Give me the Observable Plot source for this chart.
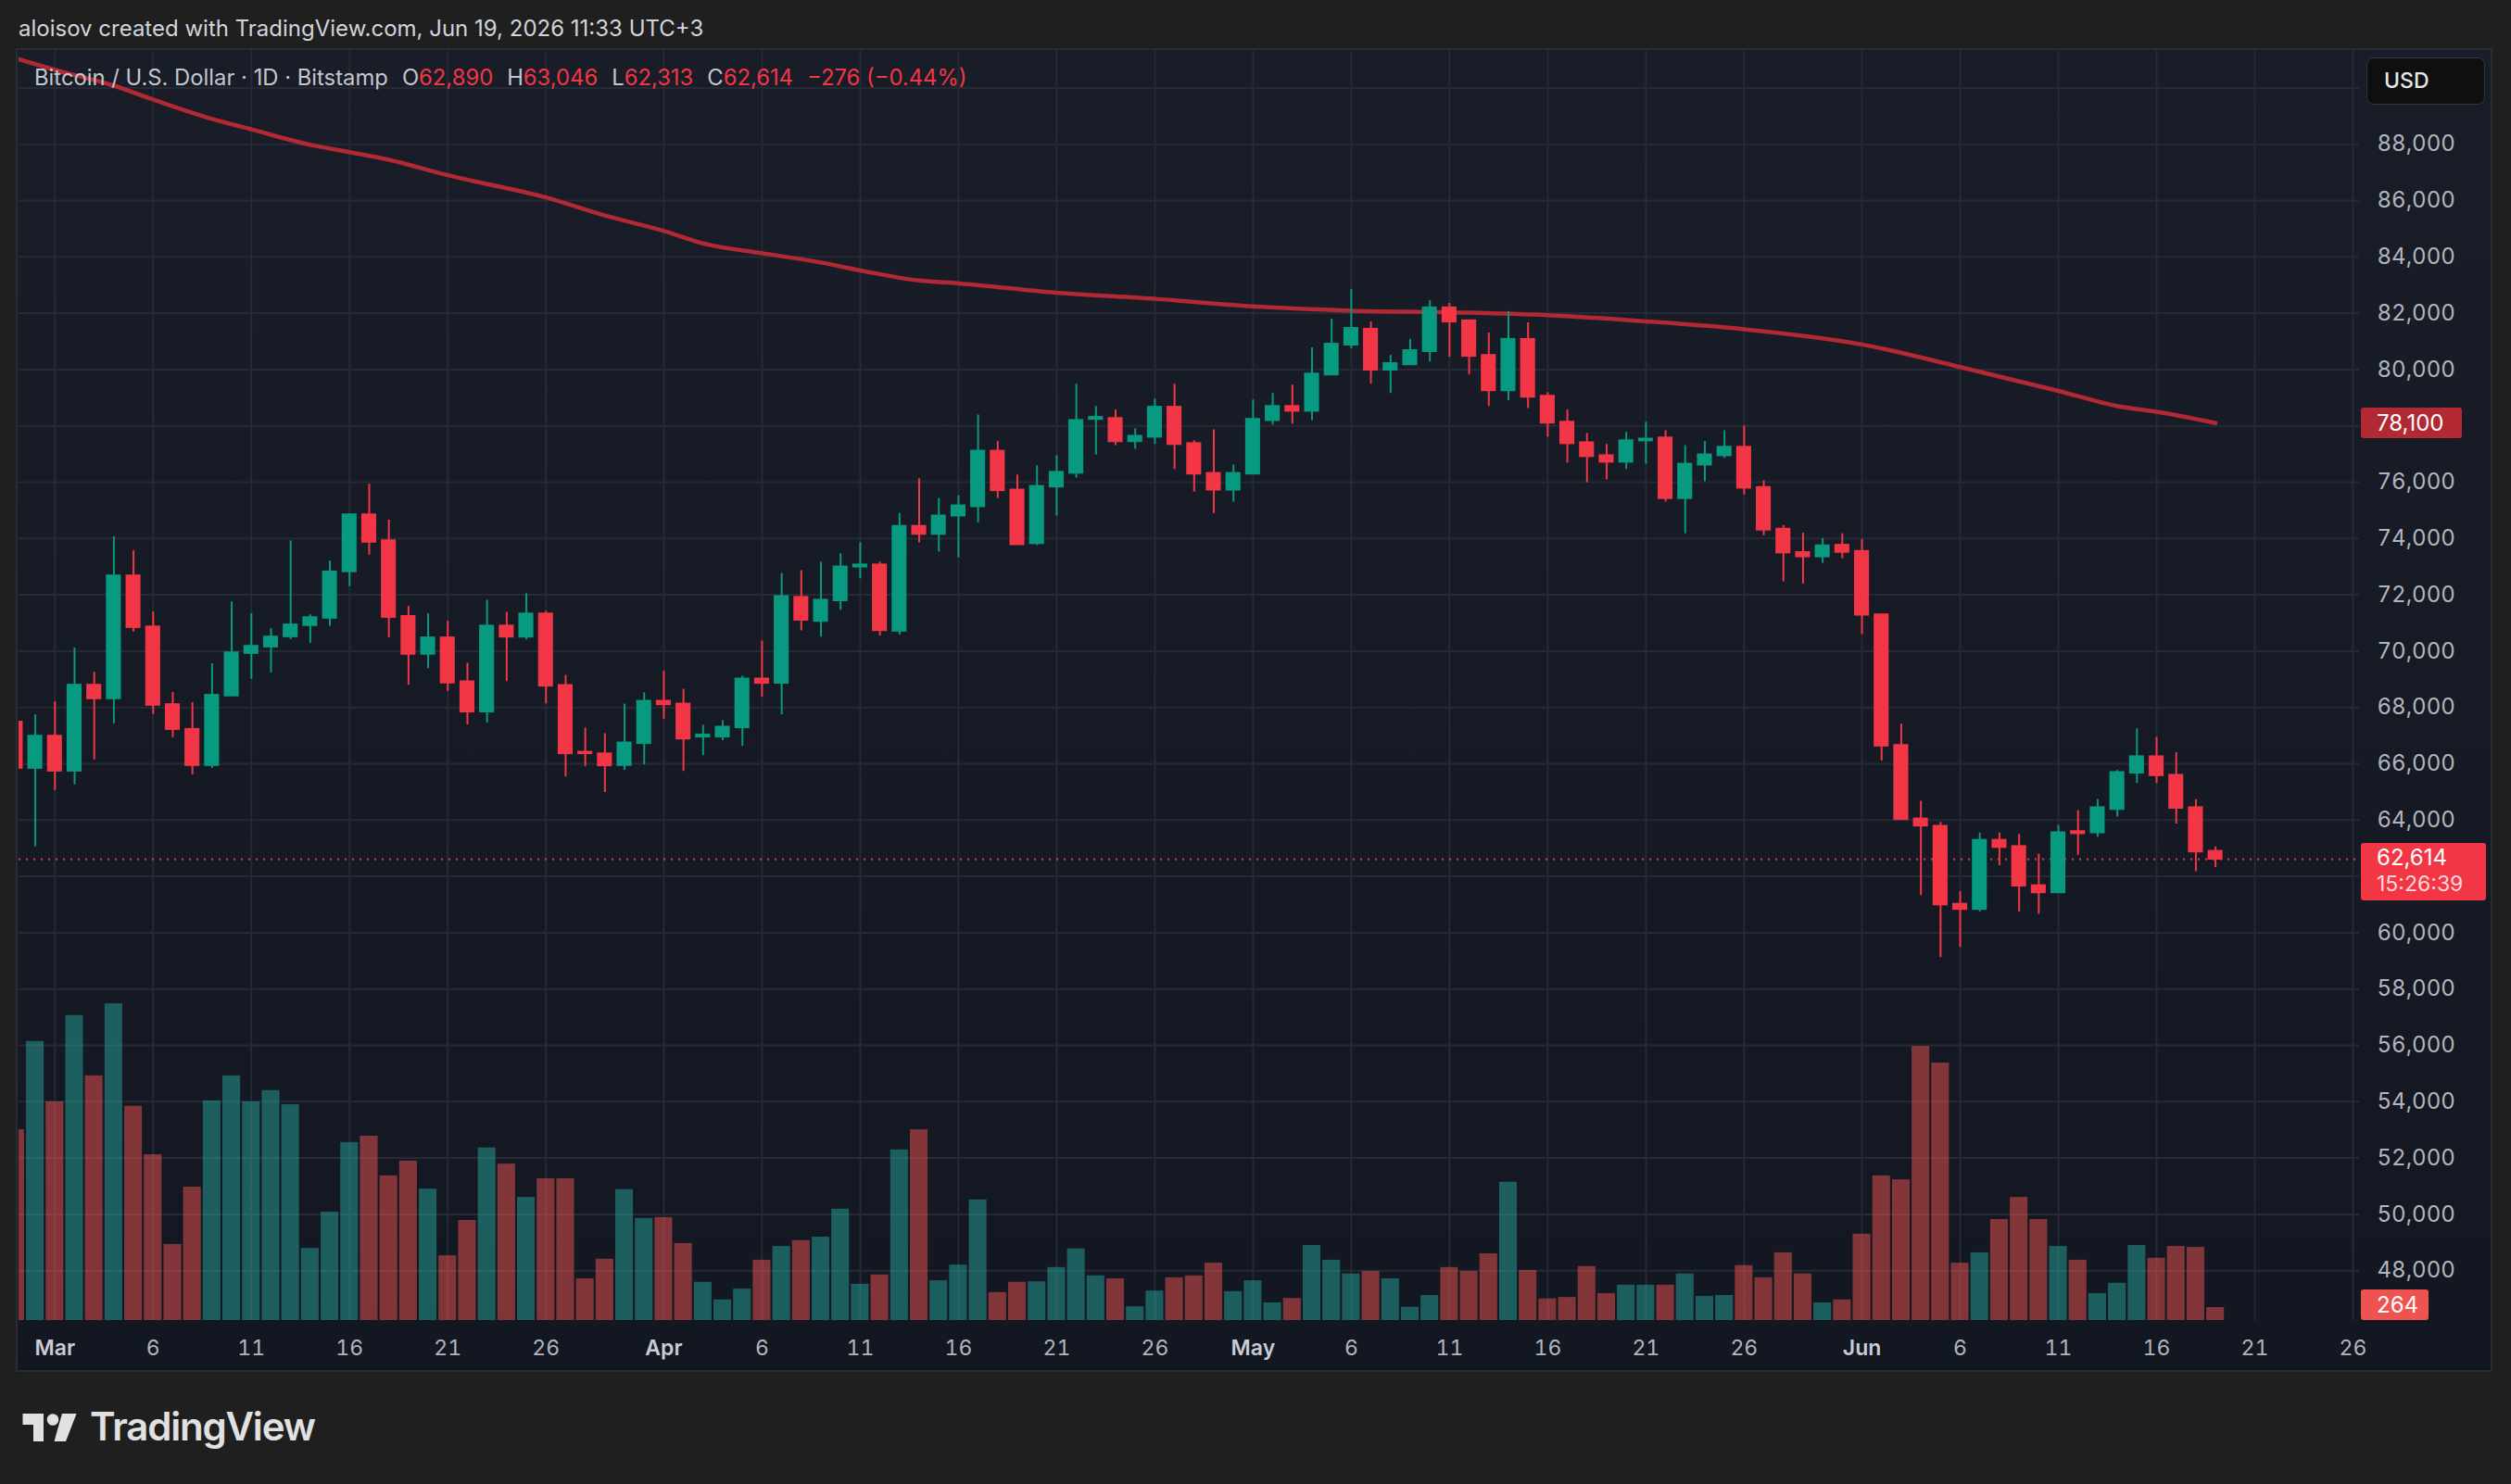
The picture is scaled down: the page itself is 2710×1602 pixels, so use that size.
<!DOCTYPE html>
<html>
<head>
<meta charset="utf-8">
<script src="https://cdn.jsdelivr.net/npm/d3@7"></script>
<script src="https://cdn.jsdelivr.net/npm/@observablehq/plot@0.6"></script>
<style>
  html, body { margin:0; padding:0; background:#1f1f1f; width:2710px; height:1602px; overflow:hidden;
    font-family: Inter, "Noto Sans", Roboto, sans-serif; }
  #header { position:absolute; left:20px; top:17px; font-size:24px; line-height:28px; color:#d1d4dc; white-space:nowrap; }
  #panel { position:absolute; left:17px; top:52px; width:2673px; height:1429px; box-sizing:border-box;
    border:2px solid #2b2d33; background:linear-gradient(#191d28, #131722); }
  #chart { position:absolute; left:17px; top:52px; width:2673px; height:1429px; }
  #chart svg { position:absolute; left:0; top:0; }
  #legend { position:absolute; left:37px; top:70px; font-size:23.8px; line-height:28px; color:#c3c6ce; white-space:nowrap; }
  #legend .v { color:#f23645; }
  #legend .g { margin-left:15px; }
  .tag { position:absolute; box-sizing:border-box; color:#fff; font-size:24px; white-space:nowrap; border-radius:3px; }
  #usd { position:absolute; left:2554px; top:62px; width:128px; height:51px; box-sizing:border-box; background:#0f0f0f;
    border:1.5px solid #34363d; border-radius:8px; color:#e6e6e6; font-size:23px; font-weight:500; line-height:48px; padding-left:18px; }
  #brand { position:absolute; left:97px; top:1519px; font-size:42px; line-height:42px; font-weight:600; color:#e1e1e1; letter-spacing:-1.2px; }
</style>
</head>
<body>
<div id="header">aloisov created with TradingView.com, Jun 19, 2026 11:33 UTC+3</div>
<div id="panel"></div>
<div id="chart"></div>
<div id="legend"></div>
<div id="usd">USD</div>
<svg id="logo" width="70" height="40" style="position:absolute;left:22px;top:1522px" viewBox="0 0 70 40">
  <path d="M2.5 4 H25 V34 H14 V16 H2.5 Z" fill="#e1e1e1"/>
  <circle cx="35" cy="10.5" r="6.3" fill="#e1e1e1"/>
  <path d="M45 4 H60.6 L49 34 H36.5 Z" fill="#e1e1e1"/>
</svg>
<div id="brand">TradingView</div>
<script>
// ---------------- DATA ----------------
const firstDay = "2026-02-27"; // daily candles, Feb 27 .. Jun 19
const open = [
  67480, 65840,                                                                      // Feb 27-28
  66980, 65740, 68790, 68310, 72670, 70860, 68100, 67220, 65940, 68410,             // Mar 1-10
  69920, 70150, 70510, 70910, 71170, 72820, 74840, 73920, 71230, 69890,             // Mar 11-20
  70470, 68910, 67840, 70890, 70500, 71320, 68780, 66410, 66350, 65940, 66720,      // Mar 21-31
  68220, 68120, 66950, 66950, 67280, 69010, 68860, 71910, 71060, 71790,             // Apr 1-10
  72990, 73060, 70710, 74430, 74150, 74800, 75130, 77100, 75720, 73820,             // Apr 11-20
  75830, 76320, 78230, 78260, 77440, 77600, 78660, 77370, 76310, 75720,             // Apr 21-30
  76290, 78190, 78690, 78520, 79810, 80870, 81430, 79980, 80170, 80640,             // May 1-10
  82190, 81730, 80500, 79250, 81070, 79050, 78130, 77400, 76940, 76710,             // May 11-20
  77470, 77570, 75420, 76610, 76940, 77240, 75810, 74330, 73500, 73350, 73760,      // May 21-31
  73540, 71290, 66650, 64040, 63780, 61010, 60830, 63280, 63060, 61670,             // Jun 1-10
  61420, 63590, 63550, 64380, 65670, 66250, 65590, 64440, 62890                     // Jun 11-19
];
const high = [
  67800, 67740,
  68200, 70110, 69250, 74060, 73560, 71390, 68530, 68170, 69550, 71750,
  71330, 70800, 73920, 71290, 73200, 74880, 75930, 74650, 71590, 71330,
  71060, 69570, 71810, 71380, 72040, 71410, 69140, 67270, 67070, 68120, 68520,
  69280, 68650, 67370, 67530, 69110, 70360, 72760, 72860, 73160, 73460,
  73850, 73160, 74890, 76120, 75420, 75520, 78390, 77440, 76250, 76580,
  76940, 79480, 78690, 78560, 77900, 78950, 79480, 77470, 77860, 76610,
  78920, 79150, 79450, 80770, 81790, 82850, 81690, 80500, 81070, 82450,
  82350, 81760, 81300, 82060, 81660, 79180, 78560, 77730, 77340, 77770,
  78130, 77830, 77300, 77440, 77830, 78000, 76050, 74460, 74190, 74000, 74170,
  73970, 71300, 67410, 64670, 63920, 61460, 63540, 63540, 63490, 62790,
  63810, 64340, 64730, 65760, 67240, 66940, 66390, 64730, 63046
];
const low = [
  65500, 63050,
  65050, 65250, 66140, 67420, 70680, 67750, 66930, 65610, 65840, 68400,
  69000, 69230, 70410, 70280, 70880, 72290, 73410, 70480, 68790, 69380,
  68570, 67380, 67440, 68920, 70400, 68130, 65540, 65900, 64980, 65770, 65960,
  67580, 65730, 66290, 66820, 66620, 68370, 67740, 70720, 70500, 71450,
  72570, 70540, 70570, 73850, 73520, 73320, 74560, 75420, 73780, 73750,
  74800, 76150, 76970, 77300, 77170, 77340, 76450, 75650, 74890, 75290,
  76290, 78030, 78060, 78190, 79810, 80740, 79480, 79150, 80140, 80270,
  80440, 79810, 78690, 78890, 78620, 77600, 76680, 75980, 76080, 76450,
  76640, 75290, 74170, 76020, 76840, 75550, 74100, 72460, 72390, 73120, 73280,
  70590, 66100, 63990, 61320, 59120, 59480, 60740, 62380, 60740, 60660,
  61420, 62750, 63390, 64110, 65300, 65300, 63860, 62170, 62313
];
const close = [
  65840, 66980,
  65740, 68790, 68310, 72670, 70840, 68080, 67220, 65940, 68430, 69940,
  70170, 70500, 70930, 71190, 72810, 74840, 73870, 71200, 69890, 70470,
  68870, 67840, 70890, 70500, 71320, 68760, 66360, 66360, 65930, 66740, 68220,
  68100, 66880, 67020, 67300, 69010, 68860, 71940, 71100, 71810, 72990,
  73060, 70730, 74430, 74150, 74800, 75160, 77100, 75700, 73780, 75850,
  76350, 78190, 78300, 77440, 77630, 78660, 77340, 76290, 75720, 76310,
  78230, 78690, 78520, 79840, 80900, 81460, 79980, 80210, 80670, 82190,
  81690, 80470, 79250, 81070, 79020, 78100, 77370, 76910, 76710, 77470,
  77530, 75420, 76640, 76970, 77240, 75790, 74300, 73490, 73350, 73740, 73510,
  71280, 66630, 64020, 63790, 60990, 60830, 63280, 63030, 61660, 61420,
  63550, 63520, 64440, 65690, 66250, 65580, 64420, 62870, 62614
];
const volume = [
  3890, 5690,
  4460, 6220, 4990, 6460, 4370, 3380, 1550, 2720, 4480, 4990,
  4460, 4690, 4400, 1470, 2210, 3630, 3760, 2950, 3250, 2680,
  1320, 2040, 3520, 3190, 2510, 2890, 2890, 850, 1250, 2670, 2080,
  2100, 1570, 780, 420, 640, 1230, 1510, 1630, 1700, 2270,
  740, 930, 3480, 3890, 810, 1130, 2460, 570, 780, 790,
  1080, 1460, 910, 850, 280, 600, 870, 910, 1170, 590,
  810, 360, 450, 1530, 1230, 950, 1000, 850, 270, 510,
  1080, 1000, 1360, 2820, 1020, 440, 470, 1100, 550, 720,
  720, 720, 950, 490, 510, 1120, 870, 1380, 950, 360, 420,
  1760, 2950, 2870, 5590, 5250, 1170, 1380, 2060, 2510, 2060,
  1510, 1230, 550, 760, 1530, 1270, 1510, 1490, 264
];
// 200-day moving average, read at points along the line
const maDates = ["2026-02-27","2026-03-01","2026-03-04","2026-03-06","2026-03-09","2026-03-11","2026-03-14",
  "2026-03-16","2026-03-18","2026-03-21","2026-03-26","2026-03-29","2026-04-01","2026-04-03","2026-04-06",
  "2026-04-09","2026-04-11","2026-04-14","2026-04-16","2026-04-21","2026-04-26","2026-05-01","2026-05-06",
  "2026-05-11","2026-05-16","2026-05-21","2026-05-26","2026-06-01","2026-06-06","2026-06-11","2026-06-14",
  "2026-06-16","2026-06-19"];
const maValues = [91050, 90640, 90080, 89590, 88900, 88530, 87980,
  87720, 87450, 86900, 86110, 85470, 84920, 84480, 84130,
  83800, 83520, 83160, 83060, 82730, 82510, 82240, 82090,
  82030, 81930, 81710, 81430, 80890, 80090, 79240, 78700,
  78500, 78100];
const priceLabelTicks = [48000,50000,52000,54000,56000,58000,60000,64000,66000,68000,70000,72000,74000,76000,80000,82000,84000,86000,88000];
const priceGridTicks = [48000,50000,52000,54000,56000,58000,60000,62000,64000,66000,68000,70000,72000,74000,76000,78000,80000,82000,84000,86000,88000,90000];
const dayTicks = ["2026-03-06","2026-03-11","2026-03-16","2026-03-21","2026-03-26",
  "2026-04-06","2026-04-11","2026-04-16","2026-04-21","2026-04-26",
  "2026-05-06","2026-05-11","2026-05-16","2026-05-21","2026-05-26",
  "2026-06-06","2026-06-11","2026-06-16","2026-06-21","2026-06-26"];
const monthTicks = ["2026-03-01","2026-04-01","2026-05-01","2026-06-01"];
const lastClose = 62614, lastVolume = 264, maLast = 78100, countdown = "15:26:39";
const legendTitle = "Bitcoin / U.S. Dollar · 1D · Bitstamp";
const legendChange = "−276 (−0.44%)";

// ---------------- BUILD ----------------
const UP = "#089981", DOWN = "#f23645";
const VUP = "#26a69a", VDOWN = "#ef5350";
const DAY = 864e5;
const parse = s => new Date(s + "T00:00:00Z");
const days = d3.utcDay.range(parse(firstDay), new Date(+parse(firstDay) + open.length * DAY));
const candles = days.map((d, i) => ({date: d, open: open[i], high: high[i], low: low[i], close: close[i], volume: volume[i]}));
const ma = maDates.map((d, i) => ({date: parse(d), value: maValues[i]}));

const W = 2673, H = 1429;
const margins = {marginLeft: 3, marginRight: 144, marginTop: 2, marginBottom: 56};
const xDomain = [new Date(+parse("2026-03-01") - 1.83 * DAY), new Date(+parse("2026-06-26") + 0.33 * DAY)];
const yDomain = [46230, 91330];
const VMAX = 25900;
const fmt = d3.format(",");
const isUp = d => d.close >= d.open;

const priceChart = Plot.plot({
  width: W, height: H, ...margins,
  style: {background: "transparent", fontFamily: "Inter, 'Noto Sans', sans-serif", color: "#b2b5be", overflow: "visible"},
  x: {type: "utc", domain: xDomain, label: null, axis: null},
  y: {domain: yDomain, label: null, axis: null},
  color: {type: "identity"},
  marks: [
    Plot.gridY(priceGridTicks, {stroke: "#262a35", strokeOpacity: 1, strokeWidth: 2}),
    Plot.gridX([...dayTicks, ...monthTicks].map(parse), {stroke: "#262a35", strokeOpacity: 1, strokeWidth: 2}),
    Plot.axisY(priceLabelTicks, {anchor: "right", tickSize: 0, tickPadding: 19, tickFormat: fmt, fontSize: 24, fill: "#b2b5be", label: null}),
    Plot.axisX(dayTicks.map(parse), {anchor: "bottom", tickSize: 0, tickPadding: 21, tickFormat: d => d.getUTCDate(), fontSize: 23, fill: "#b2b5be", label: null}),
    Plot.axisX(monthTicks.map(parse), {anchor: "bottom", tickSize: 0, tickPadding: 21, tickFormat: d3.utcFormat("%b"), fontSize: 23, fontWeight: 600, fill: "#c9ccd4", label: null}),
    Plot.line(ma, {x: "date", y: "value", stroke: "#b22833", strokeWidth: 4.5, curve: "monotone-x", clip: true}),
    Plot.ruleY([lastClose], {stroke: DOWN, strokeWidth: 2, strokeDasharray: "2,6"}),
    Plot.ruleX(candles, {x: "date", y1: "low", y2: "high", stroke: d => isUp(d) ? UP : DOWN, strokeWidth: 2, clip: true}),
    Plot.rect(candles, {
      x1: d => new Date(+d.date - 0.38 * DAY), x2: d => new Date(+d.date + 0.38 * DAY),
      y1: "open", y2: "close", fill: d => isUp(d) ? UP : DOWN, insetTop: -1, insetBottom: -1, clip: true
    })
  ]
});

const volChart = Plot.plot({
  width: W, height: H, ...margins,
  style: {background: "transparent"},
  x: {type: "utc", domain: xDomain, axis: null, label: null},
  y: {domain: [0, VMAX], axis: null, label: null},
  color: {type: "identity"},
  marks: [
    Plot.rect(candles, {
      x1: d => new Date(+d.date - 0.45 * DAY), x2: d => new Date(+d.date + 0.45 * DAY),
      y1: 0, y2: "volume", fill: d => isUp(d) ? VUP : VDOWN, fillOpacity: 0.5, clip: true
    })
  ]
});

const chart = document.getElementById("chart");
chart.appendChild(priceChart);
chart.appendChild(volChart);

// legend
const last = candles[candles.length - 1];
document.getElementById("legend").innerHTML =
  `<span>${legendTitle}</span>` +
  `<span class="g">O<span class="v">${fmt(last.open)}</span></span>` +
  `<span class="g">H<span class="v">${fmt(last.high)}</span></span>` +
  `<span class="g">L<span class="v">${fmt(last.low)}</span></span>` +
  `<span class="g">C<span class="v">${fmt(last.close)}</span></span>` +
  `<span class="g v">${legendChange}</span>`;

// right-axis tags positioned through the scales
const top0 = 52, tagLeft = 17 + (W - margins.marginRight) + 2;
const ys = priceChart.scale("y"), vs = volChart.scale("y");
function tag(text, bg, cy, h, w) {
  const el = document.createElement("div");
  el.className = "tag";
  el.style.cssText += `left:${tagLeft}px;top:${cy}px;height:${h}px;width:${w}px;background:${bg};padding-left:17px;`;
  el.innerHTML = text;
  document.body.appendChild(el);
  return el;
}
const maY = top0 + ys.apply(maLast);
tag(`<div style="line-height:33px">${fmt(maLast)}</div>`, "#b22833", maY - 16.5, 33, 109);
const pY = top0 + ys.apply(lastClose);
tag(`<div style="line-height:31px">${fmt(lastClose)}</div><div style="line-height:27px;color:#ffd6d9;font-size:23px">${countdown}</div>`,
    DOWN, pY - 16.5, 62, 135);
const vY = top0 + vs.apply(lastVolume);
const vTop = Math.min(vY - 16.5, top0 + H - margins.marginBottom - 33);
tag(`<div style="line-height:33px">${lastVolume}</div>`, VDOWN, vTop, 33, 73);
</script>
</body>
</html>
